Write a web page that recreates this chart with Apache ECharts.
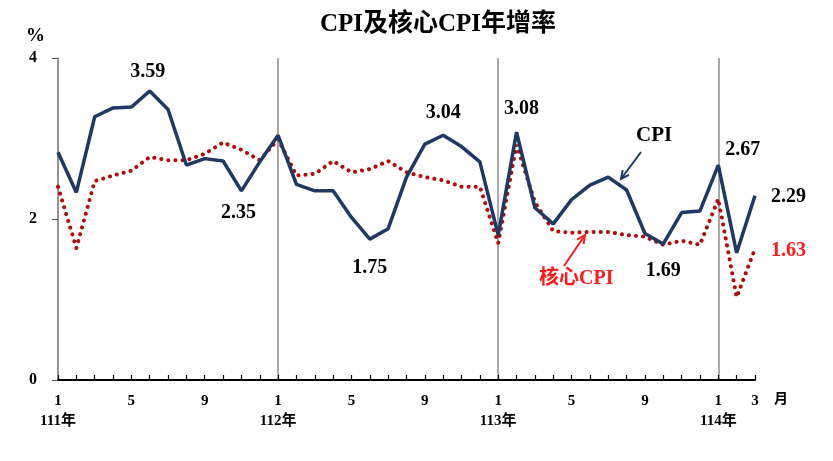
<!DOCTYPE html>
<html>
<head>
<meta charset="utf-8">
<script src="https://cdn.jsdelivr.net/npm/echarts@6/dist/echarts.min.js"></script>
<style>
  html, body { margin: 0; padding: 0; background: #fff; }
  #chart { width: 833px; height: 461px; }
</style>
</head>
<body>
<div id="chart"></div>
<script>
// 月份 (111年1月 ~ 114年3月)
const months = ['1','2','3','4','5','6','7','8','9','10','11','12',
  '1','2','3','4','5','6','7','8','9','10','11','12',
  '1','2','3','4','5','6','7','8','9','10','11','12',
  '1','2','3']
// 年份標籤 (出現在每年1月)
const yearLabels = { 0: '111年', 12: '112年', 24: '113年', 36: '114年' }

const cpi = [2.83, 2.33, 3.27, 3.38, 3.39, 3.59, 3.36, 2.67, 2.75, 2.72, 2.35, 2.71,
  3.04, 2.43, 2.35, 2.35, 2.02, 1.75, 1.88, 2.52, 2.93, 3.04, 2.90, 2.71,
  1.80, 3.08, 2.14, 1.94, 2.24, 2.42, 2.52, 2.36, 1.82, 1.69, 2.08, 2.10,
  2.67, 1.58, 2.29]
const coreCpi = [2.40, 1.64, 2.47, 2.54, 2.60, 2.77, 2.73, 2.73, 2.81, 2.95, 2.86, 2.73,
  2.99, 2.54, 2.56, 2.72, 2.58, 2.62, 2.72, 2.58, 2.52, 2.48, 2.40, 2.40,
  1.70, 2.92, 2.21, 1.85, 1.83, 1.84, 1.84, 1.80, 1.78, 1.68, 1.73, 1.68,
  2.25, 1.03, 1.63]

// 標示數值的點: 索引, 位置, 距離, 偏移
const cpiMarks = [
  [5, 'top', 11, [-2, 2]],
  [10, 'bottom', 11, [-3, 1]],
  [17, 'bottom', 17, [0, 2]],
  [21, 'top', 14, [0, 2]],
  [25, 'top', 15, [5, 2]],
  [33, 'bottom', 16, [0, 1]],
  [36, 'right', 7, [0, -15]],
  [38, 'right', 16, [0, 1]]
]
const coreMarks = [
  [38, 'right', 16, [0, 2]]
]

const FONT = "'Liberation Serif', 'Noto Sans CJK TC', serif"
const NAVY = '#1f3864'
const DARKRED = '#b00c0c'
const RED = '#ff1a1a'

function withLabels(values, marks, color) {
  return values.map((v, i) => {
    const m = marks.find(x => x[0] === i)
    if (!m) return v
    return {
      value: v,
      label: {
        show: true,
        position: m[1],
        distance: m[2],
        offset: m[3],
        formatter: p => p.value.toFixed(2),
        fontFamily: FONT,
        fontWeight: 'bold',
        fontSize: 20,
        color: color
      }
    }
  })
}

// 箭頭
function arrow(x1, y1, x2, y2, color) {
  const ang = Math.atan2(y2 - y1, x2 - x1)
  const len = 9, w = 0.45
  return [
    { type: 'line', shape: { x1: x1, y1: y1, x2: x2, y2: y2 },
      style: { stroke: color, lineWidth: 2 } },
    { type: 'polyline', shape: { points: [
        [x2 - len * Math.cos(ang - w), y2 - len * Math.sin(ang - w)],
        [x2, y2],
        [x2 - len * Math.cos(ang + w), y2 - len * Math.sin(ang + w)]
      ] },
      style: { stroke: color, lineWidth: 2, fill: null } }
  ]
}

const chart = echarts.init(document.getElementById('chart'))
chart.setOption({
  animation: false,
  title: {
    text: 'CPI及核心CPI年增率',
    left: 433,
    textAlign: 'center',
    top: 7,
    textStyle: { fontFamily: FONT, fontWeight: 'bold', fontSize: 25, color: '#000' }
  },
  grid: { left: 58, right: 78, top: 58, bottom: 81 },
  xAxis: {
    type: 'category',
    data: months,
    boundaryGap: false,
    axisLine: { lineStyle: { color: '#000', width: 2 } },
    axisTick: { show: true, inside: true, interval: 0, length: 5, lineStyle: { color: '#000', width: 1.2 } },
    splitLine: {
      show: true,
      interval: (index) => index % 12 === 0,
      lineStyle: { color: '#8c8c8c', width: 1.5 }
    },
    axisLabel: {
      interval: (index) => [0, 4, 8].includes(index % 12) || index === months.length - 1,
      margin: 11,
      formatter: (value, index) => yearLabels[index]
        ? '{m|' + value + '}\n{y|' + yearLabels[index] + '}'
        : '{m|' + value + '}',
      rich: {
        m: { fontFamily: FONT, fontWeight: 'bold', fontSize: 15, color: '#000', lineHeight: 20 },
        y: { fontFamily: FONT, fontWeight: 'bold', fontSize: 15, color: '#000', lineHeight: 20 }
      }
    }
  },
  yAxis: {
    type: 'value',
    min: 0,
    max: 4,
    interval: 2,
    axisLine: { show: true, lineStyle: { color: '#8c8c8c', width: 1.5 } },
    axisTick: { show: true, length: 6, lineStyle: { color: '#555' } },
    splitLine: { show: false },
    axisLabel: {
      margin: 21,
      fontFamily: FONT, fontWeight: 'bold', fontSize: 16, color: '#000'
    }
  },
  graphic: [
    { type: 'text', left: 26, top: 27,
      style: { text: '%', font: 'bold 19px ' + FONT, fill: '#000' } },
    { type: 'text', left: 774, top: 392,
      style: { text: '月', font: 'bold 14px ' + FONT, fill: '#000' } },
    { type: 'text', left: 636, top: 125,
      style: { text: 'CPI', font: 'bold 21px ' + FONT, fill: '#000' } },
    { type: 'text', left: 539, top: 269,
      style: { text: '核心CPI', font: 'bold 20px ' + FONT, fill: RED } },
    ...arrow(641, 152, 621, 179, NAVY),
    ...arrow(564, 266, 585, 235, RED)
  ],
  series: [
    {
      name: '核心CPI',
      type: 'line',
      data: withLabels(coreCpi, coreMarks, RED),
      symbol: 'circle',
      symbolSize: 0,
      showSymbol: true,
      lineStyle: { color: DARKRED, width: 4, type: [0.1, 7], cap: 'round' },
      z: 2
    },
    {
      name: 'CPI',
      type: 'line',
      data: withLabels(cpi, cpiMarks, '#000'),
      symbol: 'circle',
      symbolSize: 0,
      showSymbol: true,
      lineStyle: { color: NAVY, width: 3.5 },
      z: 3
    }
  ]
})
</script>
</body>
</html>
